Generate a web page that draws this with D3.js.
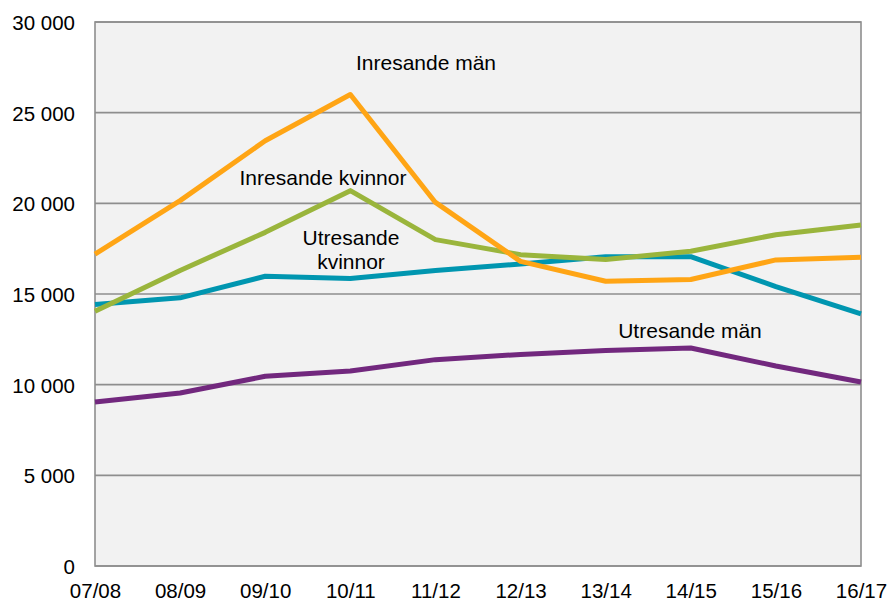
<!DOCTYPE html>
<html><head><meta charset="utf-8">
<script src="https://cdn.jsdelivr.net/npm/d3@7"></script>
<style>
html,body{margin:0;padding:0;background:#fff;}
text{font-family:"Liberation Sans",Arial,sans-serif;fill:#000;}
</style></head>
<body>
<svg id="chart" width="889" height="601"></svg>
<script>
const categories = ["07/08","08/09","09/10","10/11","11/12","12/13","13/14","14/15","15/16","16/17"];
const inresandeMan = [17200,20150,23450,26000,20050,16800,15700,15800,16880,17020];
const inresandeKvinnor = [14050,16300,18400,20700,18000,17170,16900,17360,18270,18810];
const utresandeKvinnor = [14420,14790,15980,15850,16290,16660,17060,17060,15410,13910];
const utresandeMan = [9040,9540,10460,10750,11380,11670,11890,12020,11030,10150];
const yTicks = [0,5000,10000,15000,20000,25000,30000];
const series = [
  {name:"Utresande män", values:utresandeMan, color:"#72287E"},
  {name:"Utresande kvinnor", values:utresandeKvinnor, color:"#0096B0"},
  {name:"Inresande kvinnor", values:inresandeKvinnor, color:"#9AB53C"},
  {name:"Inresande män", values:inresandeMan, color:"#FFA515"}
];
const labels = [
  {lines:["Inresande män"], x:426, y:70},
  {lines:["Inresande kvinnor"], x:323, y:185},
  {lines:["Utresande","kvinnor"], x:351, y:245},
  {lines:["Utresande män"], x:690, y:338}
];

const svg = d3.select("#chart");
const L=95, R=861, T=22, B=566;
const x = d3.scalePoint().domain(categories).range([L,R]).padding(0);
const y = d3.scaleLinear().domain([0,30000]).range([B,T]);
const fmt = v => d3.format(",")(v).replace(/,/g," ");

svg.append("rect").attr("x",L).attr("y",T).attr("width",R-L).attr("height",B-T).attr("fill","#F2F2F2");

svg.append("g").selectAll("line").data(yTicks).join("line")
  .attr("x1",L).attr("x2",R).attr("y1",d=>y(d)).attr("y2",d=>y(d))
  .attr("stroke","#8E8E8E").attr("stroke-width",1.6);

svg.append("rect").attr("x",L).attr("y",T).attr("width",R-L).attr("height",B-T)
  .attr("fill","none").attr("stroke","#8E8E8E").attr("stroke-width",1.6);

const yAxis = d3.axisLeft(y).tickValues(yTicks).tickFormat(fmt).tickSize(0).tickPadding(20);
const ya = svg.append("g").attr("transform",`translate(${L},0)`).call(yAxis);
ya.select(".domain").remove();
ya.selectAll("text").attr("font-size",20.5).attr("font-family","Liberation Sans, Arial, sans-serif").attr("fill","#000").attr("dy","0.36em");

const xAxis = d3.axisBottom(x).tickSize(0).tickPadding(17);
const xa = svg.append("g").attr("transform",`translate(0,${B})`).call(xAxis);
xa.select(".domain").remove();
xa.selectAll("text").attr("font-size",20.5).attr("font-family","Liberation Sans, Arial, sans-serif").attr("fill","#000");

const line = d3.line().x((d,i)=>x(categories[i])).y(d=>y(d));
svg.append("g").selectAll("path").data(series).join("path")
  .attr("d",d=>line(d.values)).attr("fill","none")
  .attr("stroke",d=>d.color).attr("stroke-width",5).attr("stroke-linejoin","round");

labels.forEach(lb=>{
  const t = svg.append("text").attr("x",lb.x).attr("y",lb.y).attr("text-anchor","middle").attr("font-size",21);
  lb.lines.forEach((s,i)=>t.append("tspan").attr("x",lb.x).attr("dy",i?24:0).text(s));
});
</script>
</body></html>
